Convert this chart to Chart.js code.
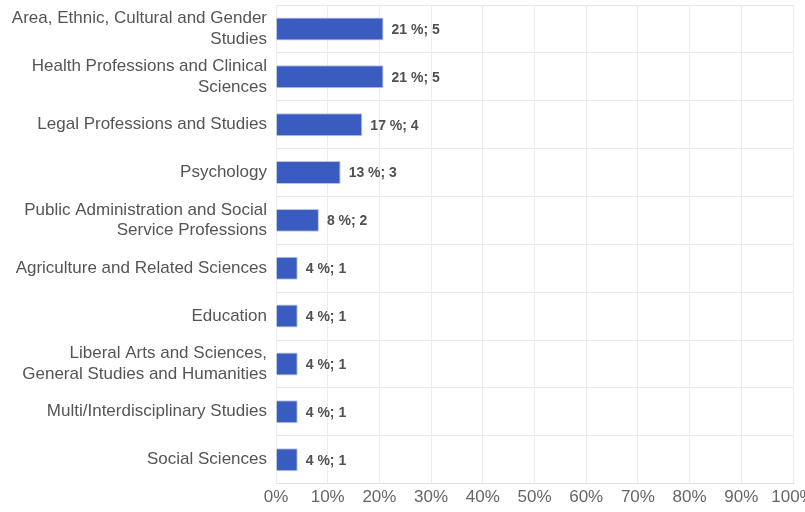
<!DOCTYPE html>
<html>
<head>
<meta charset="utf-8">
<script src="https://cdn.jsdelivr.net/npm/chart.js@4/dist/chart.umd.min.js"></script>
<style>
    html, body { margin: 0; padding: 0; background: #fff; overflow: hidden; }
    #wrap { width: 812px; height: 512px; }
</style>
</head>
<body>
<div id="wrap"><canvas id="fieldsChart"></canvas></div>
<script>
const categories = [
    ['Area, Ethnic, Cultural and Gender', 'Studies'],
    ['Health Professions and Clinical', 'Sciences'],
    'Legal Professions and Studies',
    'Psychology',
    ['Public Administration and Social', 'Service Professions'],
    'Agriculture and Related Sciences',
    'Education',
    ['Liberal Arts and Sciences,', 'General Studies and Humanities'],
    'Multi/Interdisciplinary Studies',
    'Social Sciences'
];
const percentValues = [20.8, 20.8, 16.7, 12.5, 8.3, 4.2, 4.2, 4.2, 4.2, 4.2];
const counts = [5, 5, 4, 3, 2, 1, 1, 1, 1, 1];
const xTicks = [0, 10, 20, 30, 40, 50, 60, 70, 80, 90, 100];

const fontFamily = '"Liberation Sans", Arial, sans-serif';

// draws "21 %; 5" next to each bar
const barLabels = {
    id: 'barLabels',
    afterDatasetsDraw(chart) {
        const ctx = chart.ctx;
        const meta = chart.getDatasetMeta(0);
        ctx.save();
        ctx.font = 'bold 14px ' + fontFamily;
        ctx.fillStyle = '#505050';
        ctx.textAlign = 'left';
        ctx.textBaseline = 'middle';
        meta.data.forEach((bar, i) => {
            const txt = Math.round(percentValues[i]) + ' %; ' + counts[i];
            ctx.fillText(txt, bar.x + 8, bar.y + 1);
        });
        ctx.restore();
    }
};

new Chart(document.getElementById('fieldsChart'), {
    type: 'bar',
    data: {
        labels: categories,
        datasets: [{
            data: percentValues,
            backgroundColor: '#3a5bbf',
            borderColor: '#b9c4e6',
            borderWidth: 1,
            borderSkipped: 'start',
            categoryPercentage: 0.6,
            barPercentage: 0.8
        }]
    },
    options: {
        indexAxis: 'y',
        responsive: true,
        maintainAspectRatio: false,
        animation: false,
        layout: { padding: { top: 5, bottom: 0, left: 0, right: 19 } },
        plugins: {
            legend: { display: false },
            tooltip: { enabled: false }
        },
        scales: {
            x: {
                min: 0,
                max: 100,
                afterBuildTicks(scale) {
                    scale.ticks = xTicks.map(v => ({ value: v }));
                },
                afterFit(scale) {
                    scale.paddingLeft = 0;
                    scale.paddingRight = 0;
                },
                ticks: {
                    callback: v => v + '%',
                    color: '#666',
                    font: { family: fontFamily, size: 17 },
                    padding: 4,
                    maxRotation: 0
                },
                grid: { color: '#ececec', drawTicks: false },
                border: { color: '#e2e2e2' }
            },
            y: {
                afterFit(scale) {
                    scale.width = 276;
                    scale.paddingTop = 0;
                    scale.paddingBottom = 0;
                },
                ticks: {
                    color: '#555',
                    font: { family: fontFamily, size: 17, lineHeight: 1.2 },
                    padding: 9,
                    autoSkip: false
                },
                grid: { color: '#e8e8e8', drawTicks: false },
                border: { display: false }
            }
        }
    },
    plugins: [barLabels]
});
</script>
</body>
</html>
